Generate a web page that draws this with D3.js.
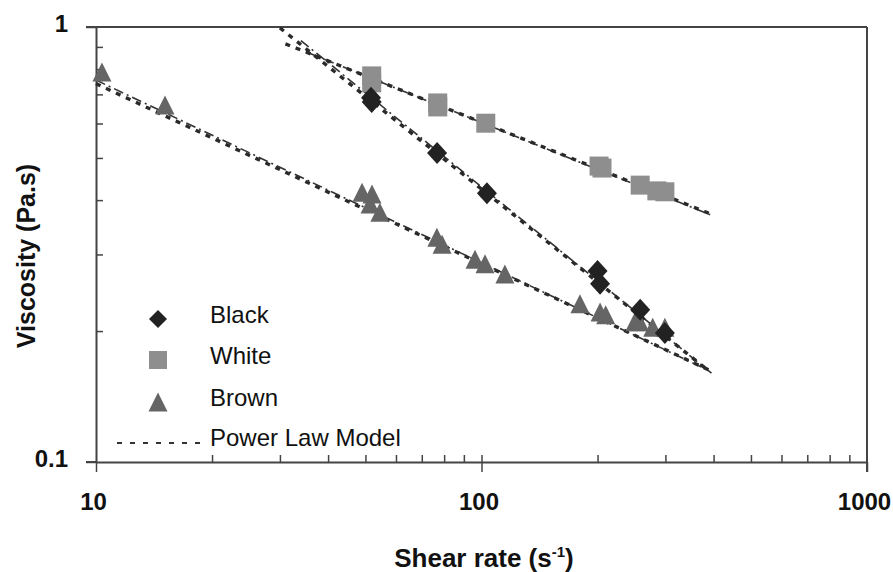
<!DOCTYPE html>
<html>
<head>
<meta charset="utf-8">
<script src="https://cdn.jsdelivr.net/npm/d3@7"></script>
<style>
  body { margin: 0; background: #fff; }
  svg { display: block; font-family: Arial, "Liberation Sans", sans-serif; }
</style>
</head>
<body>
<svg id="chart" width="893" height="572"></svg>
<script>
// measured viscosity vs shear rate, three samples
const blackRate = [51.7, 51.9, 76.7, 103.3, 200, 203, 258, 299];
const blackVisc = [0.688, 0.672, 0.513, 0.415, 0.275, 0.257, 0.224, 0.198];

const whiteRate = [51.9, 51.9, 77, 77, 102.6, 201.8, 205.4, 258, 285, 299];
const whiteVisc = [0.772, 0.744, 0.669, 0.655, 0.601, 0.479, 0.474, 0.433, 0.420, 0.418];

const brownRate = [10.36, 15.1, 49.0, 52.0, 51.4, 54.5, 76.6, 79.0, 96.2, 102.1, 115, 180, 203, 210, 250, 257, 278, 299];
const brownVisc = [0.784, 0.658, 0.415, 0.411, 0.390, 0.373, 0.327, 0.315, 0.291, 0.284, 0.269, 0.230, 0.220, 0.217, 0.209, 0.209, 0.203, 0.203];

// power law model  eta = K * rate^(n-1)
const sampleNames = ["Black", "White", "Brown"];
const modelK = [11.1, 3.09, 1.922];
const modelN = [0.291, 0.6455, 0.586];
const modelRange = [[30, 390], [31, 390], [10, 390]];
// second fit drawn thin, dash-dot
const fitK = [11.71, 3.12, 1.986];
const fitN = [0.282, 0.643, 0.58];
const fitRange = [[34, 395], [35, 395], [10, 390]];

const xMajor = [10, 100, 1000];
const xMinor = [20, 30, 40, 50, 60, 70, 80, 90, 200, 300, 400, 500, 600, 700, 800, 900];
const yMajor = [0.1, 1];
const yMinor = [0.2, 0.3, 0.4, 0.5, 0.6, 0.7, 0.8, 0.9];

const svg = d3.select("#chart");
const plotLeft = 96, plotRight = 867, plotTop = 27, plotBottom = 462;
const axisColor = "#444";

const x = d3.scaleLog().domain([10, 1000]).range([plotLeft, plotRight]);
const y = d3.scaleLog().domain([0.1, 1]).range([plotBottom, plotTop]);

// frame: top and right edges
svg.append("line").attr("x1", plotLeft - 10).attr("x2", plotRight).attr("y1", plotTop).attr("y2", plotTop)
  .attr("stroke", axisColor).attr("stroke-width", 2);
svg.append("line").attr("x1", plotRight).attr("x2", plotRight).attr("y1", plotTop).attr("y2", plotBottom + 10)
  .attr("stroke", axisColor).attr("stroke-width", 2);

function styleAxis(g) {
  g.selectAll("path").attr("stroke", axisColor).attr("stroke-width", 2);
  g.selectAll("line").attr("stroke", axisColor).attr("stroke-width", 1.5);
  g.selectAll("text").attr("fill", "#111").attr("font-size", 24).attr("font-weight", "bold")
    .attr("font-family", "Arial, 'Liberation Sans', sans-serif");
}

// x axis
svg.append("g").attr("transform", `translate(0,${plotBottom})`)
  .call(d3.axisBottom(x).tickValues(xMajor).tickSize(10).tickSizeOuter(0).tickPadding(21)
    .tickFormat(d3.format("d")))
  .call(styleAxis)
  .call(g => g.selectAll("text").attr("x", -3));
svg.append("g").attr("transform", `translate(0,${plotBottom})`)
  .call(d3.axisBottom(x).tickValues(xMinor.concat([100])).tickSize(-7).tickFormat(""))
  .call(g => g.select(".domain").remove())
  .call(styleAxis);

// y axis
svg.append("g").attr("transform", `translate(${plotLeft},0)`)
  .call(d3.axisLeft(y).tickValues(yMajor).tickSize(10).tickSizeOuter(0).tickPadding(18)
    .tickFormat(d => d === 1 ? "1" : "0.1"))
  .call(styleAxis)
  .call(g => g.selectAll("text").attr("dy", "0.17em"));
svg.append("g").attr("transform", `translate(${plotLeft},0)`)
  .call(d3.axisLeft(y).tickValues(yMinor).tickSize(-7).tickFormat(""))
  .call(g => g.select(".domain").remove())
  .call(styleAxis);
// extend x axis line under the 0.1 tick
svg.append("line").attr("x1", plotLeft - 10).attr("x2", plotLeft).attr("y1", plotBottom).attr("y2", plotBottom)
  .attr("stroke", axisColor).attr("stroke-width", 2);

// axis titles
const xt = svg.append("text").attr("x", 484).attr("y", 567).attr("text-anchor", "middle")
  .attr("font-size", 26).attr("font-weight", "bold").attr("fill", "#111");
xt.append("tspan").text("Shear rate (s");
xt.append("tspan").text("-1").attr("font-size", 15).attr("dy", -10);
xt.append("tspan").text(")").attr("dy", 10);

svg.append("text").attr("transform", "translate(35,256) rotate(-90)").attr("text-anchor", "middle")
  .attr("font-size", 25).attr("font-weight", "bold").attr("fill", "#111")
  .text("Viscosity (Pa.s)");

// model lines
const line = d3.line().x(d => x(d[0])).y(d => y(d[1]));
const plot = svg.append("g");
sampleNames.forEach((name, i) => {
  const fitPts = fitRange[i].map(r => [r, fitK[i] * Math.pow(r, fitN[i] - 1)]);
  plot.append("path").datum(fitPts).attr("d", line).attr("fill", "none")
    .attr("stroke", "#333").attr("stroke-width", 1.6).attr("stroke-dasharray", "10,4,2,4");
  const modelPts = modelRange[i].map(r => [r, modelK[i] * Math.pow(r, modelN[i] - 1)]);
  plot.append("path").datum(modelPts).attr("d", line).attr("fill", "none")
    .attr("stroke", "#2a2a2a").attr("stroke-width", 3.4).attr("stroke-dasharray", "5,6");
});

// marker shapes
const diamond = { draw(ctx, size) { const w = 10, h = 11; ctx.moveTo(0, -h); ctx.lineTo(w, 0); ctx.lineTo(0, h); ctx.lineTo(-w, 0); ctx.closePath(); } };
const triangle = { draw(ctx, size) { const w = 9.5, h = 19; ctx.moveTo(0, -h * 0.55); ctx.lineTo(w, h * 0.45); ctx.lineTo(-w, h * 0.45); ctx.closePath(); } };
const square = { draw(ctx, size) { const s = 9.5; ctx.rect(-s, -s, 2 * s, 2 * s); } };

const series = [
  { rate: whiteRate, visc: whiteVisc, shape: square, color: "#8e8e8e" },
  { rate: brownRate, visc: brownVisc, shape: triangle, color: "#656565" },
  { rate: blackRate, visc: blackVisc, shape: diamond, color: "#222" }
];
series.forEach(s => {
  plot.append("g").selectAll("path")
    .data(d3.zip(s.rate, s.visc))
    .join("path")
    .attr("d", d3.symbol().type(s.shape))
    .attr("transform", d => `translate(${x(d[0])},${y(d[1])})`)
    .attr("fill", s.color);
});

// legend
const legendItems = [
  { label: "Black", shape: diamond, color: "#222", cy: 319, ty: 323 },
  { label: "White", shape: square, color: "#8e8e8e", cy: 360, ty: 364 },
  { label: "Brown", shape: triangle, color: "#656565", cy: 403, ty: 406 }
];
const legendSquare = { draw(ctx) { ctx.rect(-9, -9, 18, 18); } };
const legendDiamond = { draw(ctx) { ctx.moveTo(0, -9); ctx.lineTo(9, 0); ctx.lineTo(0, 9); ctx.lineTo(-9, 0); ctx.closePath(); } };
const legend = svg.append("g");
legendItems.forEach(it => {
  const sym = it.shape === diamond ? legendDiamond : it.shape === square ? legendSquare : it.shape;
  legend.append("path").attr("d", d3.symbol().type(sym)).attr("fill", it.color)
    .attr("transform", `translate(158,${it.cy})`);
  legend.append("text").attr("x", 210).attr("y", it.ty).attr("font-size", 24)
    .attr("fill", "#111").text(it.label);
});
legend.append("line").attr("x1", 117).attr("x2", 204).attr("y1", 443).attr("y2", 443)
  .attr("stroke", "#333").attr("stroke-width", 2).attr("stroke-dasharray", "5,8");
legend.append("text").attr("x", 210).attr("y", 446).attr("font-size", 24)
  .attr("fill", "#111").text("Power Law Model");
</script>
</body>
</html>
